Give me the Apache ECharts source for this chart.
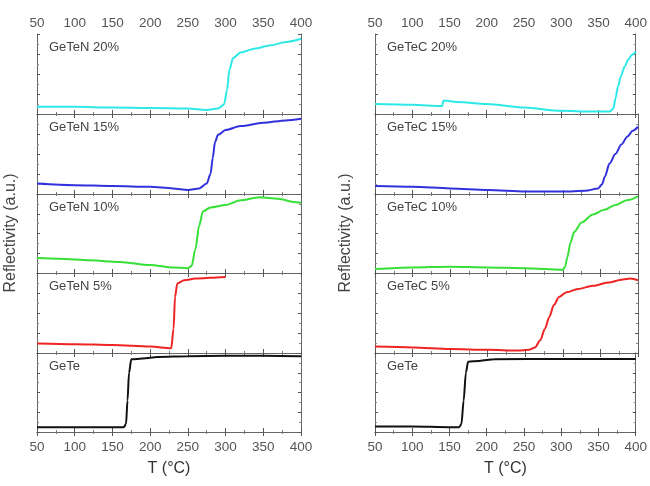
<!DOCTYPE html>
<html>
<head>
<meta charset="utf-8">
<script src="https://cdn.jsdelivr.net/npm/echarts@6/dist/echarts.min.js"></script>
<style>html,body{margin:0;background:#fff}#chart{width:650px;height:486px}</style>
</head>
<body>
<div id="chart"></div>
<script>
// temperature (°C), normalised reflectivity
var geteN20 = [[50,0.09],[100,0.09],[150,0.08],[200,0.075],[250,0.07],[275,0.05],[290,0.07],[298,0.12],[302,0.3],[305,0.55],[310,0.7],[320,0.77],[340,0.82],[360,0.86],[380,0.9],[400,0.94]];
var geteN15 = [[50,0.13],[100,0.11],[150,0.1],[200,0.09],[230,0.07],[250,0.05],[265,0.07],[275,0.13],[280,0.25],[283,0.45],[286,0.65],[290,0.74],[300,0.8],[320,0.85],[350,0.89],[380,0.92],[400,0.94]];
var geteN10 = [[50,0.19],[80,0.18],[120,0.16],[160,0.14],[200,0.1],[230,0.07],[250,0.06],[255,0.09],[260,0.3],[265,0.6],[270,0.78],[280,0.83],[300,0.86],[320,0.92],[345,0.96],[370,0.94],[390,0.9],[400,0.89]];
var geteN5  = [[50,0.12],[100,0.11],[150,0.1],[200,0.08],[228,0.06],[231,0.3],[233,0.7],[236,0.87],[245,0.91],[260,0.93],[280,0.94],[300,0.95]];
var geteL   = [[50,0.06],[100,0.06],[150,0.06],[165,0.06],[168,0.1],[170,0.4],[172,0.75],[175,0.92],[190,0.93],[210,0.95],[250,0.96],[300,0.965],[350,0.965],[400,0.96]];

var geteC20 = [[50,0.125],[100,0.115],[140,0.1],[142,0.17],[160,0.15],[200,0.125],[250,0.08],[300,0.04],[340,0.03],[365,0.03],[370,0.07],[373,0.2],[376,0.34],[380,0.47],[385,0.59],[390,0.68],[395,0.74],[400,0.78]];
var geteC15 = [[50,0.1],[100,0.09],[150,0.07],[200,0.05],[250,0.03],[300,0.03],[330,0.04],[347,0.07],[352,0.12],[356,0.22],[362,0.38],[370,0.5],[378,0.62],[386,0.72],[393,0.79],[400,0.84]];
var geteC10 = [[50,0.05],[100,0.07],[150,0.08],[200,0.07],[250,0.06],[300,0.04],[303,0.08],[306,0.2],[310,0.38],[315,0.52],[325,0.64],[340,0.74],[355,0.8],[370,0.86],[385,0.92],[400,0.97]];
var geteC5  = [[50,0.08],[100,0.07],[150,0.05],[200,0.04],[240,0.03],[255,0.04],[263,0.07],[270,0.16],[276,0.3],[282,0.45],[288,0.6],[295,0.7],[305,0.76],[320,0.8],[340,0.84],[360,0.88],[380,0.92],[390,0.93],[400,0.91]];
var geteR   = [[50,0.07],[100,0.07],[150,0.06],[163,0.06],[166,0.1],[169,0.4],[172,0.75],[175,0.89],[190,0.9],[210,0.92],[300,0.925],[400,0.925]];

var labelsLeft = ['GeTeN 20%', 'GeTeN 15%', 'GeTeN 10%', 'GeTeN 5%', 'GeTe'];
var labelsRight = ['GeTeC 20%', 'GeTeC 15%', 'GeTeC 10%', 'GeTeC 5%', 'GeTe'];
var dataLeft = [geteN20, geteN15, geteN10, geteN5, geteL];
var dataRight = [geteC20, geteC15, geteC10, geteC5, geteR];
var colors = ['#2ee8e8', '#3232dc', '#36e036', '#ee2424', '#111111'];

var chart = echarts.init(document.getElementById('chart'));

var rowTops = [34, 114, 194, 273, 353];
var rowH = [80, 80, 79, 80, 79];
var cols = [{left: 37, width: 264, labels: labelsLeft, data: dataLeft, nameX: 11},
            {left: 375, width: 263, labels: labelsRight, data: dataRight, nameX: 346}];

var FONT = 'Liberation Sans, Arial, sans-serif';
var grids = [], xAxes = [], yAxes = [], series = [], graphics = [];

cols.forEach(function (c, ci) {
    for (var r = 0; r < 5; r++) {
        var g = grids.length;
        grids.push({left: c.left, top: rowTops[r], width: c.width, height: rowH[r]});
        ['bottom', 'top'].forEach(function (pos) {
            var showLab = (pos === 'bottom' && r === 4) || (pos === 'top' && r === 0);
            xAxes.push({
                type: 'value', gridIndex: g, position: pos, min: 50, max: 400, interval: 50,
                name: (pos === 'bottom' && r === 4) ? 'T (°C)' : '',
                nameLocation: 'middle', nameGap: 29,
                nameTextStyle: {fontSize: 16, color: '#333', fontFamily: FONT},
                axisLine: {show: true, lineStyle: {color: '#666', width: 1}},
                axisTick: {show: true, inside: true, length: 4, lineStyle: {color: '#555'}},
                minorTick: {show: true, splitNumber: 2, length: 2, lineStyle: {color: '#777'}},
                axisLabel: {show: showLab, fontSize: 13.5, color: '#555', fontFamily: FONT,
                            margin: pos === 'top' ? 4 : 8},
                splitLine: {show: false}
            });
        });
        ['left', 'right'].forEach(function (pos) {
            yAxes.push({
                type: 'value', gridIndex: g, position: pos, min: 0, max: 1, interval: 0.25,
                axisLine: {show: true, lineStyle: {color: '#666', width: 1}},
                axisTick: {show: true, inside: true, length: 3, lineStyle: {color: '#555'}},
                minorTick: {show: true, splitNumber: 2, length: 2, lineStyle: {color: '#888'}},
                axisLabel: {show: false},
                splitLine: {show: false}
            });
        });
        series.push({
            type: 'line', xAxisIndex: 2 * g, yAxisIndex: 2 * g,
            data: c.data[r], showSymbol: false, smooth: 0.3, smoothMonotone: 'x',
            lineStyle: {color: colors[r], width: 2}, silent: true, animation: false
        });
        graphics.push({
            type: 'text', left: c.left + 12, top: rowTops[r] + 7,
            style: {text: c.labels[r], fill: '#444', font: '13px ' + FONT}
        });
    }
    graphics.push({
        type: 'text', x: c.nameX, y: 233, rotation: Math.PI / 2,
        style: {text: 'Reflectivity (a.u.)', fill: '#444', font: '16px ' + FONT,
                textAlign: 'center', textVerticalAlign: 'middle'}
    });
});

var option = {
    animation: false,
    grid: grids,
    xAxis: xAxes,
    yAxis: yAxes,
    series: series,
    graphic: graphics
};
option && chart.setOption(option);
</script>
</body>
</html>
